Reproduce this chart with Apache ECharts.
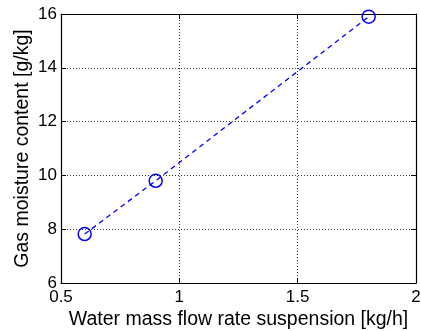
<!DOCTYPE html>
<html>
<head>
<meta charset="utf-8">
<script src="https://cdn.jsdelivr.net/npm/echarts@6/dist/echarts.min.js"></script>
<style>
  html, body { margin: 0; padding: 0; background: #fff; }
  #chart { width: 421px; height: 331px; }
</style>
</head>
<body>
<div id="chart"></div>
<script>
const flowRate = [0.6, 0.9, 1.8];
const moisture = [7.82, 9.8, 15.9];
const xTicks = [0.5, 1, 1.5, 2];
const yTicks = [6, 8, 10, 12, 14, 16];

const chart = echarts.init(document.getElementById('chart'));

const font = 'Liberation Sans, Arial, sans-serif';
const axisLine = { show: true, lineStyle: { color: '#000', width: 1.2 } };
const tick = { show: true, inside: true, length: 5, lineStyle: { color: '#000' } };
const grid = { show: true, lineStyle: { color: '#000', type: [1, 2], width: 0.8 } };

chart.setOption({
    animation: false,
    grid: { left: 61, right: 5, top: 14, bottom: 48, outerBoundsMode: 'none', containLabel: false },
    xAxis: [{
        type: 'value', min: 0.5, max: 2, interval: 0.5,
        axisLine, axisTick: tick, splitLine: grid,
        axisLabel: {
            color: '#000', fontFamily: font, fontSize: 17, margin: 6,
            formatter: v => xTicks.includes(v) ? String(v) : ''
        },
        name: 'Water mass flow rate suspension [kg/h]',
        nameLocation: 'middle', nameGap: 27, nameMoveOverlap: false,
        nameTextStyle: { color: '#000', fontFamily: font, fontSize: 19.5 }
    }, {
        type: 'value', min: 0.5, max: 2, interval: 0.5, position: 'top',
        axisLine, axisTick: tick, splitLine: { show: false }, axisLabel: { show: false }
    }],
    yAxis: [{
        type: 'value', min: 6, max: 16, interval: 2,
        axisLine, axisTick: tick, splitLine: grid,
        axisLabel: {
            color: '#000', fontFamily: font, fontSize: 17, margin: 4,
            formatter: v => yTicks.includes(v) ? String(v) : ''
        },
        name: 'Gas moisture content [g/kg]',
        nameLocation: 'middle', nameGap: 28, nameMoveOverlap: false,
        nameTextStyle: { color: '#000', fontFamily: font, fontSize: 19.5 }
    }, {
        type: 'value', min: 6, max: 16, interval: 2, position: 'right',
        axisLine, axisTick: tick, splitLine: { show: false }, axisLabel: { show: false }
    }],
    series: [{
        type: 'line',
        data: flowRate.map((x, i) => [x, moisture[i]]),
        symbol: 'circle', symbolSize: 13,
        itemStyle: { color: 'none', borderColor: '#0000ff', borderWidth: 1.5 },
        lineStyle: { color: '#0000ff', width: 1.3, type: [5, 4] }
    }]
});
</script>
</body>
</html>
